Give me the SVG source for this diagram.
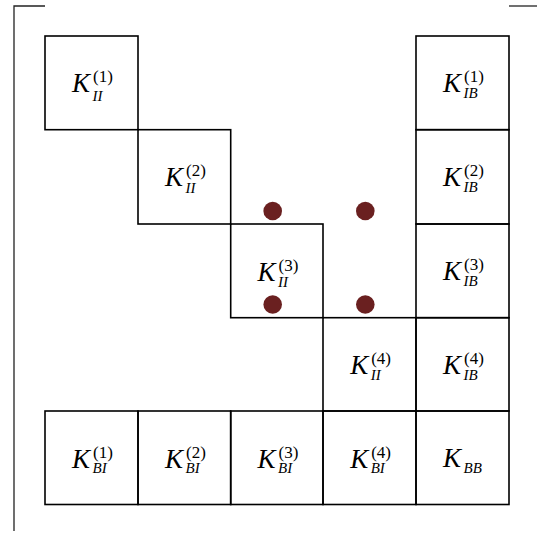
<svg xmlns="http://www.w3.org/2000/svg" width="537" height="533" viewBox="0 0 537 533">
<style>
.box{fill:none;stroke:#000;stroke-width:1.6}
.br{fill:none;stroke:#222;stroke-width:1.3}
.dot{fill:#6a2020}
.k{font-family:"Liberation Serif","Times New Roman",serif;font-style:italic;font-size:27px;fill:#000}
.sub{font-family:"Liberation Serif","Times New Roman",serif;font-style:italic;font-size:15px;fill:#000}
.sup{font-family:"Liberation Serif","Times New Roman",serif;font-style:normal;font-size:17px;fill:#000}
</style>
<rect width="537" height="533" fill="#fff"/>
<g id="bracket">
<path class="br" d="M45,6 H14 V531"/>
<path class="br" d="M509,6 H537"/>
</g>
<g id="KII1"><rect class="box" x="45" y="36" width="93" height="93.7"/>
<text class="k" x="72" y="92">K</text><text class="sup" x="93" y="82">(1)</text><text class="sub" x="92.5" y="101">II</text></g>
<g id="KII2"><rect class="box" x="138" y="129.7" width="92.7" height="94.3"/>
<text class="k" x="165" y="186">K</text><text class="sup" x="186" y="176">(2)</text><text class="sub" x="185.5" y="193">II</text></g>
<g id="KII3"><rect class="box" x="230.7" y="224" width="92.3" height="93.7"/>
<text class="k" x="257.6" y="281">K</text><text class="sup" x="278.6" y="271">(3)</text><text class="sub" x="278.1" y="287">II</text></g>
<g id="KII4"><rect class="box" x="323" y="317.7" width="93" height="93.3"/>
<text class="k" x="350.2" y="374">K</text><text class="sup" x="371.2" y="364">(4)</text><text class="sub" x="370.7" y="380">II</text></g>
<g id="KIB1"><rect class="box" x="416" y="36" width="93" height="93.7"/>
<text class="k" x="443" y="92">K</text><text class="sup" x="464" y="82">(1)</text><text class="sub" x="463.5" y="98">IB</text></g>
<g id="KIB2"><rect class="box" x="416" y="129.7" width="93" height="94.3"/>
<text class="k" x="443" y="186">K</text><text class="sup" x="464" y="176">(2)</text><text class="sub" x="463.5" y="192">IB</text></g>
<g id="KIB3"><rect class="box" x="416" y="224" width="93" height="93.7"/>
<text class="k" x="443" y="280">K</text><text class="sup" x="464" y="270">(3)</text><text class="sub" x="463.5" y="286">IB</text></g>
<g id="KIB4"><rect class="box" x="416" y="317.7" width="93" height="93.3"/>
<text class="k" x="443" y="374">K</text><text class="sup" x="464" y="364">(4)</text><text class="sub" x="463.5" y="380">IB</text></g>
<g id="KBI1"><rect class="box" x="45" y="411" width="93" height="93.5"/>
<text class="k" x="72" y="467.5">K</text><text class="sup" x="93" y="457.5">(1)</text><text class="sub" x="92.5" y="473">BI</text></g>
<g id="KBI2"><rect class="box" x="138" y="411" width="92.7" height="93.5"/>
<text class="k" x="165" y="467.5">K</text><text class="sup" x="186" y="457.5">(2)</text><text class="sub" x="185.5" y="473">BI</text></g>
<g id="KBI3"><rect class="box" x="230.7" y="411" width="92.3" height="93.5"/>
<text class="k" x="257.6" y="467.5">K</text><text class="sup" x="278.6" y="457.5">(3)</text><text class="sub" x="278.1" y="473">BI</text></g>
<g id="KBI4"><rect class="box" x="323" y="411" width="93" height="93.5"/>
<text class="k" x="350.2" y="467.5">K</text><text class="sup" x="371.2" y="457.5">(4)</text><text class="sub" x="370.7" y="473">BI</text></g>
<g id="KBB"><rect class="box" x="416" y="411" width="93" height="93.5"/>
<text class="k" x="443" y="466.5">K</text><text class="sub" x="463.5" y="472.5">BB</text></g>
<g id="dots">
<circle class="dot" cx="272.7" cy="211" r="9.3"/>
<circle class="dot" cx="365.3" cy="211" r="9.3"/>
<circle class="dot" cx="272.7" cy="304.5" r="9.3"/>
<circle class="dot" cx="365.3" cy="304.5" r="9.3"/>
</g>
<g id="connectors"></g>
</svg>
